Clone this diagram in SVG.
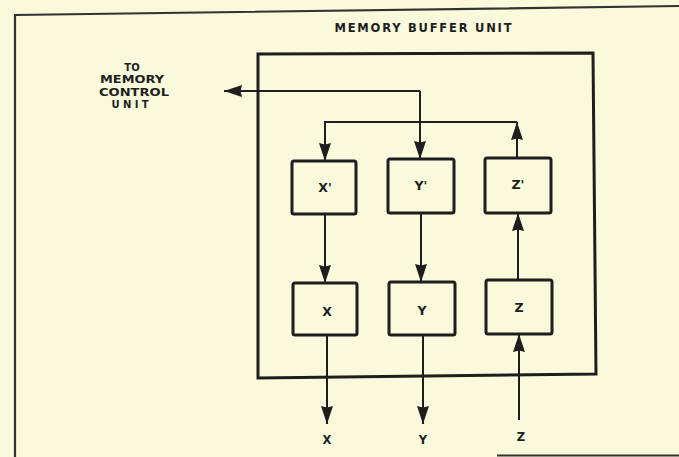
<svg xmlns="http://www.w3.org/2000/svg" width="679" height="457" viewBox="0 0 679 457">
  <style>
    .bg { fill: #f9f9dc; }
    .frame { fill: none; stroke: #333; stroke-width: 2.2; }
    .box { fill: none; stroke: #1e1e1e; stroke-width: 3; }
    .wire { fill: none; stroke: #1e1e1e; stroke-width: 2; }
    .lbl { font-family: "DejaVu Sans", "Liberation Sans", sans-serif; font-weight: bold; font-size: 11.5px; fill: #1e1e1e; text-anchor: middle; }
    .mcu { font-size: 10px; }
    .bx { font-size: 12.5px; }
  </style>
  <defs>
    <marker id="ah" markerUnits="userSpaceOnUse" markerWidth="22" markerHeight="16" viewBox="-20 -8 21 16" refX="0" refY="0" orient="auto">
      <path d="M0,0 L-18,-6 L-16.5,0 L-18,6 Z" fill="#1e1e1e"/>
    </marker>
  </defs>
  <rect class="bg" x="0" y="0" width="679" height="457"/>
  <g id="frame">
    <path class="frame" d="M15,457 L15,15 L679,6"/>
    <path class="frame" d="M497,455.5 L679,455.5"/>
  </g>
  <text class="lbl" x="423" y="32" textLength="177" lengthAdjust="spacing">MEMORY BUFFER UNIT</text>
  <g id="mcu-label">
    <text class="lbl mcu" x="132" y="70.5">TO</text>
    <text class="lbl mcu" x="132" y="83" textLength="64" lengthAdjust="spacingAndGlyphs">MEMORY</text>
    <text class="lbl mcu" x="134" y="95.5" textLength="70" lengthAdjust="spacingAndGlyphs">CONTROL</text>
    <text class="lbl mcu" x="130" y="108" textLength="37" lengthAdjust="spacing">UNIT</text>
  </g>
  <g id="buffer-unit">
    <path class="box" d="M258,378 L258,54 L593,53 L596,374 Z"/>
  </g>
  <g id="Xp"><rect class="box" x="292" y="161" width="64" height="53" rx="2"/><text class="lbl bx" x="325" y="192">X'</text></g>
  <g id="Yp"><rect class="box" x="388" y="159" width="66" height="54" rx="2"/><text class="lbl bx" x="421" y="190">Y'</text></g>
  <g id="Zp"><rect class="box" x="485" y="158" width="66" height="55" rx="2"/><text class="lbl bx" x="518" y="189">Z'</text></g>
  <g id="X"><rect class="box" x="293" y="283" width="64" height="52" rx="2"/><text class="lbl bx" x="327" y="316">X</text></g>
  <g id="Y"><rect class="box" x="389" y="282" width="66" height="53" rx="2"/><text class="lbl bx" x="422" y="315">Y</text></g>
  <g id="Z"><rect class="box" x="486" y="280" width="66" height="54" rx="2"/><text class="lbl bx" x="519" y="312">Z</text></g>
  <g id="connectors">
    <path class="wire" d="M420,91 L224,91" marker-end="url(#ah)"/>
    <path class="wire" d="M420,91 L420,159" marker-end="url(#ah)"/>
    <path class="wire" d="M517,158 L517,122" marker-end="url(#ah)"/>
    <path class="wire" d="M517,122 L325,122 L325,161" marker-end="url(#ah)"/>
    <path class="wire" d="M325,214 L325,283" marker-end="url(#ah)"/>
    <path class="wire" d="M421,213 L421,282" marker-end="url(#ah)"/>
    <path class="wire" d="M518,280 L518,213" marker-end="url(#ah)"/>
    <path class="wire" d="M327,335 L327,424" marker-end="url(#ah)"/>
    <path class="wire" d="M423,335 L423,424" marker-end="url(#ah)"/>
    <path class="wire" d="M519,420 L519,334" marker-end="url(#ah)"/>
  </g>
  <g id="outputs">
    <text class="lbl" x="327" y="444">X</text>
    <text class="lbl" x="423" y="444">Y</text>
    <text class="lbl" x="521" y="441">Z</text>
  </g>
</svg>
